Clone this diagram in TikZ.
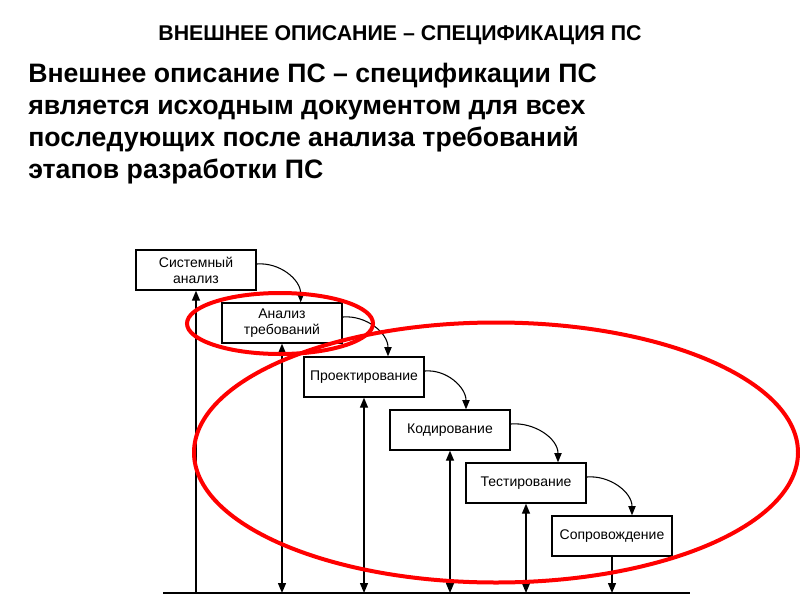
\documentclass[tikz,border=0pt]{standalone}
\usepackage{fontspec}
\setmainfont{Liberation Sans}
\usetikzlibrary{arrows.meta}
\begin{document}
\begin{tikzpicture}[x=0.75pt,y=-0.75pt,
  stagebox/.style={draw,line width=1pt,minimum width=90pt,minimum height=30pt,inner sep=1pt,align=center,font=\fontsize{10.5}{12}\selectfont},
  tip/.style={-{Triangle[length=7.5pt,width=6pt]}},
  dtip/.style={{Triangle[length=7.5pt,width=6pt]}-{Triangle[length=7.5pt,width=6pt]}},
  flow/.style={line width=0.8pt,-{Triangle[length=7pt,width=5.5pt]}},
  vline/.style={line width=1pt},
  redring/.style={draw=red,line width=3pt}]
\useasboundingbox (0,0) rectangle (800,600);
% title and text
\node[font=\bfseries\fontsize{16}{18}\selectfont,anchor=base] (title) at (400,40) {ВНЕШНЕЕ ОПИСАНИЕ – СПЕЦИФИКАЦИЯ ПС};
\node[font=\bfseries\fontsize{20}{24}\selectfont,anchor=north west,align=left,inner sep=0pt] (body) at (28,63)
 {Внешнее описание ПС – спецификации ПС\\является исходным документом для всех\\последующих после анализа требований\\этапов разработки ПС};
% boxes
\node[stagebox] (s1) at (196,270) {Системный\\анализ};
\node[stagebox] (s2) at (282,323) {Анализ\\требований};
\node[stagebox] (s3) at (364,377) {Проектирование};
\node[stagebox] (s4) at (450,430) {Кодирование};
\node[stagebox] (s5) at (526,483) {Тестирование};
\node[stagebox] (s6) at (612,536) {Сопровождение};
% base line
\coordinate (bl) at (163,593);
\coordinate (br) at (690,593);
\draw[line width=1.5pt] (bl) -- (br);
\foreach \n in {1,...,6}{\coordinate (g\n) at (s\n |- bl);}
\draw[vline,tip] (g1) -- (s1.south);
\draw[vline,dtip] (g2) -- (s2.south);
\draw[vline,dtip] (g3) -- (s3.south);
\draw[vline,dtip] (g4) -- (s4.south);
\draw[vline,dtip] (g5) -- (s5.south);
\draw[vline,tip] (s6.south) -- (g6);
% flow arrows
\draw[flow] ([yshift=4.5]s1.east) to[out=5,in=90] ([xshift=14]s2.north);
\draw[flow] ([yshift=4.5]s2.east) to[out=5,in=90] ([xshift=18]s3.north);
\draw[flow] ([yshift=4.5]s3.east) to[out=5,in=90] ([xshift=12]s4.north);
\draw[flow] ([yshift=4.5]s4.east) to[out=5,in=90] ([xshift=24]s5.north);
\draw[flow] ([yshift=4.5]s5.east) to[out=5,in=90] ([xshift=15]s6.north);
% red ellipses
\draw[redring] (280,323.5) ellipse[x radius=93,y radius=30.5];
\draw[redring] (496,452.5) ellipse[x radius=302,y radius=130];
\end{tikzpicture}
\end{document}
